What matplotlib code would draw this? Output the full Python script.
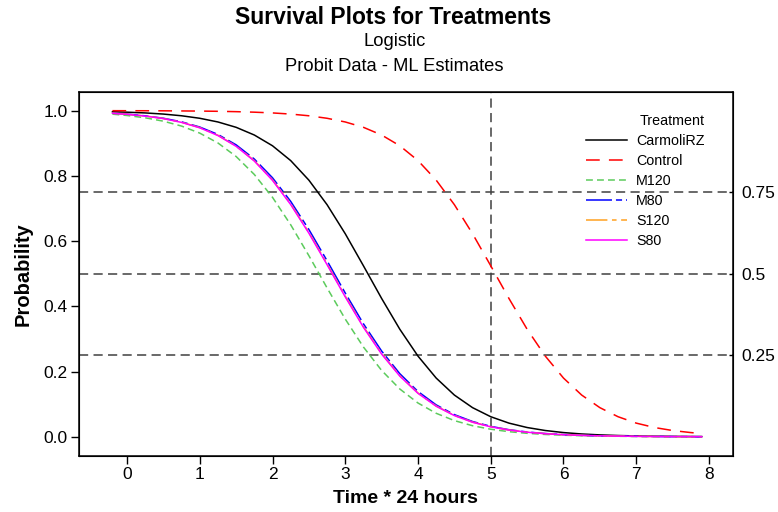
import matplotlib
matplotlib.use("Agg")
import matplotlib.pyplot as plt

# ---- data ----
time = [-0.2, 0.0, 0.25, 0.5, 0.75, 1.0, 1.25, 1.5, 1.75, 2.0, 2.25, 2.5, 2.75,
        3.0, 3.25, 3.5, 3.75, 4.0, 4.25, 4.5, 4.75, 5.0, 5.25, 5.5, 5.75, 6.0,
        6.25, 6.5, 6.75, 7.0, 7.25, 7.5, 7.75, 7.9]

carmolirz = [0.9965, 0.9952, 0.9929, 0.9894, 0.9842, 0.9765, 0.9652, 0.9488,
             0.9252, 0.8922, 0.8468, 0.7868, 0.7116, 0.6225, 0.5242, 0.4241,
             0.3297, 0.2473, 0.1800, 0.1279, 0.0893, 0.0615, 0.0419, 0.0284,
             0.0192, 0.0129, 0.0086, 0.0058, 0.0039, 0.0026, 0.0017, 0.0012,
             0.0008, 0.0006]
control = [0.9998, 0.9997, 0.9996, 0.9994, 0.9990, 0.9986, 0.9979, 0.9968,
           0.9952, 0.9929, 0.9894, 0.9842, 0.9765, 0.9652, 0.9488, 0.9252,
           0.8922, 0.8468, 0.7868, 0.7116, 0.6225, 0.5242, 0.4241, 0.3297,
           0.2473, 0.1800, 0.1279, 0.0893, 0.0615, 0.0419, 0.0284, 0.0192,
           0.0129, 0.0101]
m120 = [0.9891, 0.9851, 0.9780, 0.9676, 0.9526, 0.9310, 0.9008, 0.8593,
        0.8042, 0.7341, 0.6500, 0.5553, 0.4564, 0.3609, 0.2752, 0.2034,
        0.1465, 0.1035, 0.0720, 0.0496, 0.0339, 0.0231, 0.0156, 0.0106,
        0.0071, 0.0048, 0.0032, 0.0022, 0.0015, 0.0010, 0.0007, 0.0004,
        0.0003, 0.0002]
m80 = [0.9922, 0.9893, 0.9841, 0.9766, 0.9656, 0.9497, 0.9269, 0.8951,
       0.8516, 0.7941, 0.7217, 0.6355, 0.5397, 0.4407, 0.3464, 0.2629,
       0.1934, 0.1388, 0.0978, 0.0679, 0.0468, 0.0319, 0.0217, 0.0147,
       0.0099, 0.0067, 0.0045, 0.0030, 0.0020, 0.0014, 0.0009, 0.0006,
       0.0004, 0.0003]
s120 = [0.9919, 0.9889, 0.9836, 0.9758, 0.9643, 0.9479, 0.9244, 0.8915,
        0.8467, 0.7878, 0.7140, 0.6266, 0.5302, 0.4313, 0.3378, 0.2553,
        0.1874, 0.1342, 0.0944, 0.0656, 0.0450, 0.0308, 0.0209, 0.0141,
        0.0096, 0.0065, 0.0044, 0.0029, 0.0020, 0.0013, 0.0009, 0.0006,
        0.0004, 0.0003]
s80 = [0.9918, 0.9887, 0.9834, 0.9755, 0.9639, 0.9473, 0.9236, 0.8905,
       0.8454, 0.7862, 0.7120, 0.6243, 0.5277, 0.4290, 0.3357, 0.2536,
       0.1860, 0.1332, 0.0936, 0.0650, 0.0446, 0.0305, 0.0207, 0.0140,
       0.0095, 0.0064, 0.0043, 0.0029, 0.0020, 0.0013, 0.0009, 0.0006,
       0.0004, 0.0003]

series_names = ["CarmoliRZ", "Control", "M120", "M80", "S120", "S80"]
series_vals = [carmolirz, control, m120, m80, s120, s80]

ref_y = [0.25, 0.5, 0.75]
ref_y_labels = ["0.25", "0.5", "0.75"]
ref_x = 5
x_ticks = [0, 1, 2, 3, 4, 5, 6, 7, 8]
y_ticks = [0.0, 0.2, 0.4, 0.6, 0.8, 1.0]

# ---- styling ----
plt.rcParams['font.family'] = ['Liberation Sans', 'DejaVu Sans']

styles = {
    "CarmoliRZ": dict(color="black", linestyle="-"),
    "Control": dict(color="#FF0000", linestyle=(0, (9, 6))),
    "M120": dict(color="#5CCB5C", linestyle=(0, (4.5, 2.7))),
    "M80": dict(color="#0000FF", linestyle=(0, (17, 2.6, 4, 2.6))),
    "S120": dict(color="#FFA020", linestyle=(0, (14, 3, 3, 3))),
    "S80": dict(color="#FF00FF", linestyle="-"),
}

fig = plt.figure(figsize=(7.78, 5.12), dpi=100)
ax = fig.add_axes([78.7 / 778, 1 - 455.7 / 512, (733 - 78.7) / 778, (455.7 - 91.7) / 512])

ref_color = "#404040"
for yv in ref_y:
    ax.axhline(yv, color=ref_color, linestyle=(0, (6, 3.5)), linewidth=1.1, zorder=1)
ax.axvline(ref_x, color=ref_color, linestyle=(0, (6, 3.5)), linewidth=1.1, zorder=1)

for name, vals in zip(series_names, series_vals):
    ax.plot(time, vals, label=name, linewidth=1.1, zorder=3, **styles[name])

ax.set_xlim(-0.664, 8.33)
ax.set_ylim(-0.058, 1.058)
ax.set_xticks(x_ticks)
ax.set_xticklabels([str(v) for v in x_ticks])
ax.set_yticks(y_ticks)
ax.set_yticklabels([f"{v:.1f}" for v in y_ticks])
ax.tick_params(axis="both", direction="out", length=6, width=1, labelsize=12.5, pad=2)
for sp in ax.spines.values():
    sp.set_linewidth(1.1)

ax2 = ax.twinx()
ax2.set_ylim(ax.get_ylim())
ax2.set_yticks(ref_y)
ax2.set_yticklabels(ref_y_labels)
ax2.tick_params(axis="y", direction="in", length=3, width=1, labelsize=12.5, pad=6)

ax.set_xlabel("Time * 24 hours", fontsize=14, fontweight="bold", labelpad=6)
ax.set_ylabel("Probability", fontsize=14.5, fontweight="bold", labelpad=8)

fig.text(0.505, 0.965, "Survival Plots for Treatments", ha="center", va="center",
         fontsize=16.5, fontweight="bold")
fig.text(0.507, 0.918, "Logistic", ha="center", va="center", fontsize=13.2)
fig.text(0.507, 0.871, "Probit Data - ML Estimates", ha="center", va="center", fontsize=13.2)

leg = ax.legend(title="Treatment", loc="upper right", bbox_to_anchor=(0.976, 0.975),
                frameon=False, fontsize=10.3, title_fontsize=10.3, handlelength=2.9,
                handletextpad=0.6, labelspacing=0.42, alignment="right")

fig.savefig("out.png", dpi=100)
